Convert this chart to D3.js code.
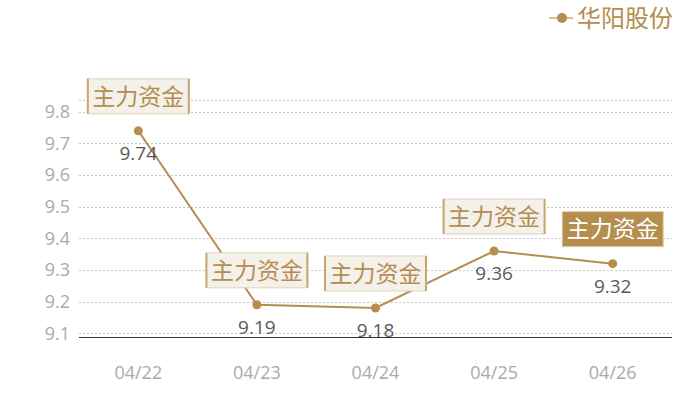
<!DOCTYPE html>
<html>
<head>
<meta charset="utf-8">
<script src="https://cdn.jsdelivr.net/npm/d3@7"></script>
<style>
  body { margin: 0; background: #fff; }
  text { font-family: "Noto Sans CJK SC", "Noto Sans", sans-serif; }
  text.num { font-family: "Open Sans", "Noto Sans", sans-serif; }
</style>
</head>
<body>
<div id="chart"></div>
<script>
// data
const dates = ["04/22", "04/23", "04/24", "04/25", "04/26"];
const prices = [9.74, 9.19, 9.18, 9.36, 9.32];
const yTicks = [9.1, 9.2, 9.3, 9.4, 9.5, 9.6, 9.7, 9.8];
const seriesName = "华阳股份";
const noteText = "主力资金";

const W = 700, H = 400;
const margin = {left: 79, right: 28, top: 100, bottom: 63};
const gold = "#b58d4f";

const svg = d3.select("#chart").append("svg")
    .attr("width", W)
    .attr("height", H);

const x = d3.scaleBand()
    .domain(dates)
    .range([margin.left, W - margin.right]);

// min*0.99 .. max*1.01 fits the grid in the picture
const y = d3.scaleLinear()
    .domain([d3.min(prices) * 0.99, d3.max(prices) * 1.01])
    .range([H - margin.bottom, margin.top]);

const cx = d => x(d) + x.bandwidth() / 2;

// grid
const grid = svg.append("g");
grid.selectAll("line")
  .data(yTicks.concat([y.domain()[1]]))
  .enter().append("line")
    .attr("x1", margin.left)
    .attr("x2", W - margin.right)
    .attr("y1", d => Math.round(y(d)) + 0.5)
    .attr("y2", d => Math.round(y(d)) + 0.5)
    .attr("stroke", "#c8c8c8")
    .attr("stroke-dasharray", "2,2");

// y labels
svg.append("g").selectAll("text")
  .data(yTicks)
  .enter().append("text")
    .attr("class", "num")
    .attr("x", 70)
    .attr("y", d => y(d))
    .attr("dy", "0.35em")
    .attr("text-anchor", "end")
    .attr("fill", "#aaaaaa")
    .style("font-size", "18px")
    .text(d => d.toFixed(1));

// x axis
svg.append("line")
    .attr("x1", margin.left)
    .attr("x2", W - margin.right)
    .attr("y1", H - margin.bottom + 0.5)
    .attr("y2", H - margin.bottom + 0.5)
    .attr("stroke", "#333");

svg.append("g").selectAll("text")
  .data(dates)
  .enter().append("text")
    .attr("class", "num")
    .attr("x", d => cx(d))
    .attr("y", 373)
    .attr("dy", "0.35em")
    .attr("text-anchor", "middle")
    .attr("fill", "#aaaaaa")
    .style("font-size", "18px")
    .text(d => d);

// line + dots
const line = d3.line()
    .x((d, i) => cx(dates[i]))
    .y(d => y(d));

svg.append("path")
    .datum(prices)
    .attr("d", line)
    .attr("fill", "none")
    .attr("stroke", gold)
    .attr("stroke-width", 2);

svg.append("g").selectAll("circle")
  .data(prices)
  .enter().append("circle")
    .attr("cx", (d, i) => cx(dates[i]))
    .attr("cy", d => y(d))
    .attr("r", 4.5)
    .attr("fill", gold);

// value labels
svg.append("g").selectAll("text")
  .data(prices)
  .enter().append("text")
    .attr("class", "num")
    .attr("x", (d, i) => cx(dates[i]))
    .attr("y", d => y(d) + 29)
    .attr("text-anchor", "middle")
    .attr("fill", "#5a5a5a")
    .style("font-size", "19px")
    .text(d => d.toFixed(2));

// notes above each point
const bw = 101, bh = 35;
const notes = svg.append("g").selectAll("g")
  .data(prices)
  .enter().append("g")
    .attr("transform", (d, i) => `translate(${cx(dates[i]) - bw / 2},${y(d) - 17 - bh})`);

notes.append("rect")
    .attr("width", bw)
    .attr("height", bh)
    .attr("fill", (d, i) => i === prices.length - 1 ? gold : "#f4f0ea")
    .attr("stroke", (d, i) => i === prices.length - 1 ? "#e2cda8" : "#e2d2b8")
    .attr("stroke-width", 1);

notes.filter((d, i) => i < prices.length - 1)
  .selectAll("line.side")
  .data([0, bw])
  .enter().append("line")
    .attr("class", "side")
    .attr("x1", d => d)
    .attr("x2", d => d)
    .attr("y1", 0)
    .attr("y2", bh)
    .attr("stroke", "#c9a46c")
    .attr("stroke-width", 2);

notes.append("text")
    .attr("x", bw / 2)
    .attr("y", bh / 2)
    .attr("dy", "0.36em")
    .attr("text-anchor", "middle")
    .attr("fill", (d, i) => i === prices.length - 1 ? "#fff" : gold)
    .style("font-size", "23px")
    .text(noteText);

// legend
const legend = svg.append("g");
legend.append("line")
    .attr("x1", 549).attr("x2", 573)
    .attr("y1", 18).attr("y2", 18)
    .attr("stroke", "#d7bf98")
    .attr("stroke-width", 2);
legend.append("circle")
    .attr("cx", 562).attr("cy", 18).attr("r", 5)
    .attr("fill", gold);
legend.append("text")
    .attr("x", 577)
    .attr("y", 18)
    .attr("dy", "0.36em")
    .attr("fill", gold)
    .style("font-size", "24px")
    .text(seriesName);
</script>
</body>
</html>
